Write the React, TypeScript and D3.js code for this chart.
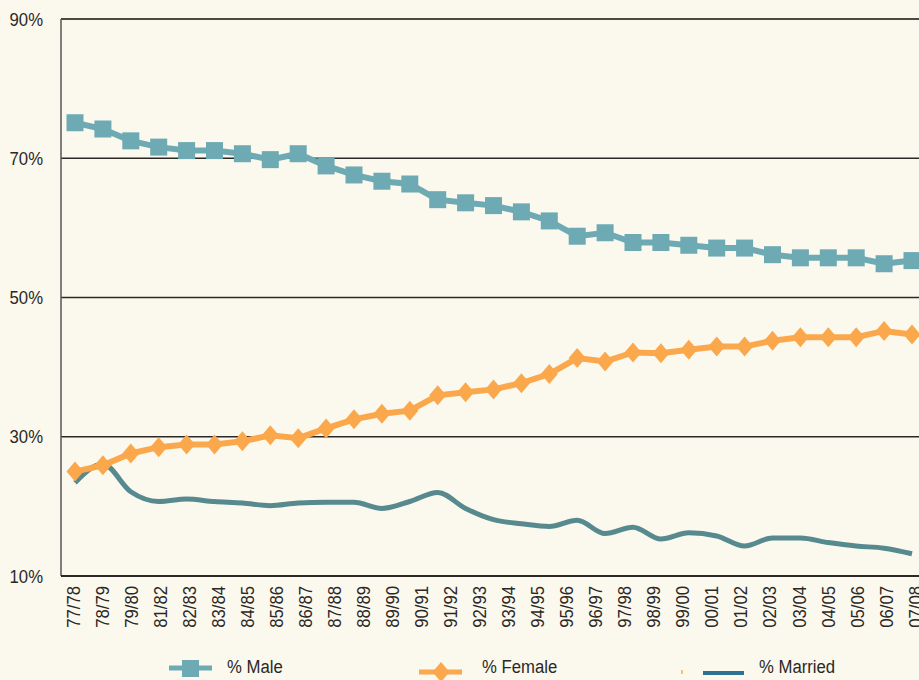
import React, { useEffect, useRef } from 'react';
import * as d3 from 'd3';

// labels shown under the axis (80/81 is not printed in the source)
const tickLabels = ['77/78', '78/79', '79/80', '81/82', '82/83', '83/84', '84/85', '85/86', '86/87', '87/88',
  '88/89', '89/90', '90/91', '91/92', '92/93', '93/94', '94/95', '95/96', '96/97', '97/98',
  '98/99', '99/00', '00/01', '01/02', '02/03', '03/04', '04/05', '05/06', '06/07', '07/08'];

const male = [75.1, 74.2, 72.5, 71.6, 71.1, 71.1, 70.65, 69.8, 70.65, 68.9,
  67.6, 66.7, 66.3, 64.05, 63.6, 63.2, 62.3, 61.0, 58.8, 59.3,
  57.9, 57.9, 57.5, 57.1, 57.1, 56.15, 55.7, 55.7, 55.7, 54.85, 55.3];

const female = [25.0, 25.9, 27.6, 28.5, 28.9, 28.9, 29.35, 30.2, 29.8, 31.2,
  32.5, 33.3, 33.75, 35.95, 36.4, 36.8, 37.7, 39.0, 41.3, 40.8,
  42.1, 42.0, 42.5, 42.95, 42.95, 43.8, 44.3, 44.3, 44.3, 45.2, 44.7];

const married = [23.4, 26.1, 22.1, 20.7, 21.05, 20.7, 20.5, 20.1, 20.5, 20.6,
  20.6, 19.7, 20.7, 22.0, 19.7, 18.1, 17.5, 17.1, 18.0, 16.1,
  17.0, 15.3, 16.2, 15.75, 14.3, 15.45, 15.45, 14.8, 14.3, 14.0, 13.2];

const yTicks = [10, 30, 50, 70, 90];

const W = 919, H = 680;
const FONT = '"Liberation Sans", Arial, sans-serif';
const NARROW = 'scale(0.88,1)';
const BG = '#fbf8ee';
const MALE = '#6eaab3', FEMALE = '#fba84c', MARRIED = '#578a8e';
const INK = '#2b2826';

const App = () => {
  const ref = useRef<SVGSVGElement>(null);

  useEffect(() => {
    document.body.style.margin = '0';
    document.body.style.background = BG;
    const svg = d3.select(ref.current);
    svg.selectAll('*').remove();

    const x = d3.scaleLinear().domain([0, male.length - 1]).range([75, 912]);
    const xl = d3.scalePoint().domain(tickLabels).range([73, 915]);
    const y = d3.scaleLinear().domain([10, 90]).range([576, 19]);

    svg.append('rect').attr('width', W).attr('height', H).attr('fill', BG);

    // gridlines
    svg.append('g').selectAll('line').data(yTicks.filter(t => t > 10)).enter().append('line')
      .attr('x1', 61).attr('x2', W).attr('y1', d => y(d)).attr('y2', d => y(d))
      .attr('stroke', d => d === 90 ? '#4d4842' : INK).attr('stroke-width', d => d === 90 ? 2 : 1.5);

    // axes
    svg.append('line').attr('x1', 61).attr('x2', 61).attr('y1', y(90)).attr('y2', y(10))
      .attr('stroke', '#5a5550').attr('stroke-width', 1.5);
    svg.append('line').attr('x1', 61).attr('x2', W).attr('y1', y(10)).attr('y2', y(10))
      .attr('stroke', INK).attr('stroke-width', 2);

    svg.append('g').selectAll('text').data(yTicks).enter().append('text')
      .attr('transform', d => `translate(43,${y(d)}) ${NARROW}`).attr('dy', '0.35em')
      .attr('text-anchor', 'end').attr('font-family', FONT).attr('font-size', 19).attr('fill', INK)
      .text(d => d + '%');

    svg.append('g').selectAll('text').data(tickLabels).enter().append('text')
      .attr('transform', d => `translate(${xl(d)},586) rotate(-90) ${NARROW}`).attr('dy', '0.35em')
      .attr('text-anchor', 'end').attr('font-family', FONT).attr('font-size', 19).attr('fill', INK)
      .text(d => d);

    // married
    const smooth = d3.line<number>().x((d, i) => x(i)).y(d => y(d)).curve(d3.curveMonotoneX);
    svg.append('path').datum(married).attr('d', smooth).attr('fill', 'none')
      .attr('stroke', MARRIED).attr('stroke-width', 5);

    const line = d3.line<number>().x((d, i) => x(i)).y(d => y(d));

    // male
    svg.append('path').datum(male).attr('d', line).attr('fill', 'none')
      .attr('stroke', MALE).attr('stroke-width', 6);
    svg.append('g').selectAll('rect').data(male).enter().append('rect')
      .attr('x', (d, i) => x(i) - 8.5).attr('y', d => y(d) - 8.5)
      .attr('width', 17).attr('height', 17).attr('fill', MALE);

    // female
    const diamond = (cx: number, cy: number) => `M${cx},${cy - 10}L${cx + 8.5},${cy}L${cx},${cy + 10}L${cx - 8.5},${cy}Z`;
    svg.append('path').datum(female).attr('d', line).attr('fill', 'none')
      .attr('stroke', FEMALE).attr('stroke-width', 6);
    svg.append('g').selectAll('path').data(female).enter().append('path')
      .attr('d', (d, i) => diamond(x(i), y(d))).attr('fill', FEMALE);

    // legend
    const lg = svg.append('g').attr('font-family', FONT).attr('font-size', 19).attr('fill', INK);
    lg.append('line').attr('x1', 169).attr('x2', 212).attr('y1', 668).attr('y2', 668).attr('stroke', MALE).attr('stroke-width', 5);
    lg.append('rect').attr('x', 182).attr('y', 660).attr('width', 17).attr('height', 17).attr('fill', MALE);
    lg.append('text').attr('transform', `translate(227,673) ${NARROW}`).text('% Male');

    lg.append('line').attr('x1', 419).attr('x2', 462).attr('y1', 672).attr('y2', 672).attr('stroke', FEMALE).attr('stroke-width', 5);
    lg.append('path').attr('d', diamond(441, 672)).attr('fill', FEMALE);
    lg.append('text').attr('transform', `translate(482,673) ${NARROW}`).text('% Female');

    lg.append('line').attr('x1', 682).attr('x2', 682).attr('y1', 670).attr('y2', 674).attr('stroke', FEMALE).attr('stroke-width', 1.5);
    lg.append('line').attr('x1', 703).attr('x2', 744).attr('y1', 673).attr('y2', 673).attr('stroke', '#2e7193').attr('stroke-width', 4);
    lg.append('text').attr('transform', `translate(759,673) ${NARROW}`).text('% Married');
  }, []);

  return <svg ref={ref} width={W} height={H} style={{ display: 'block' }} />;
};

export default App;
